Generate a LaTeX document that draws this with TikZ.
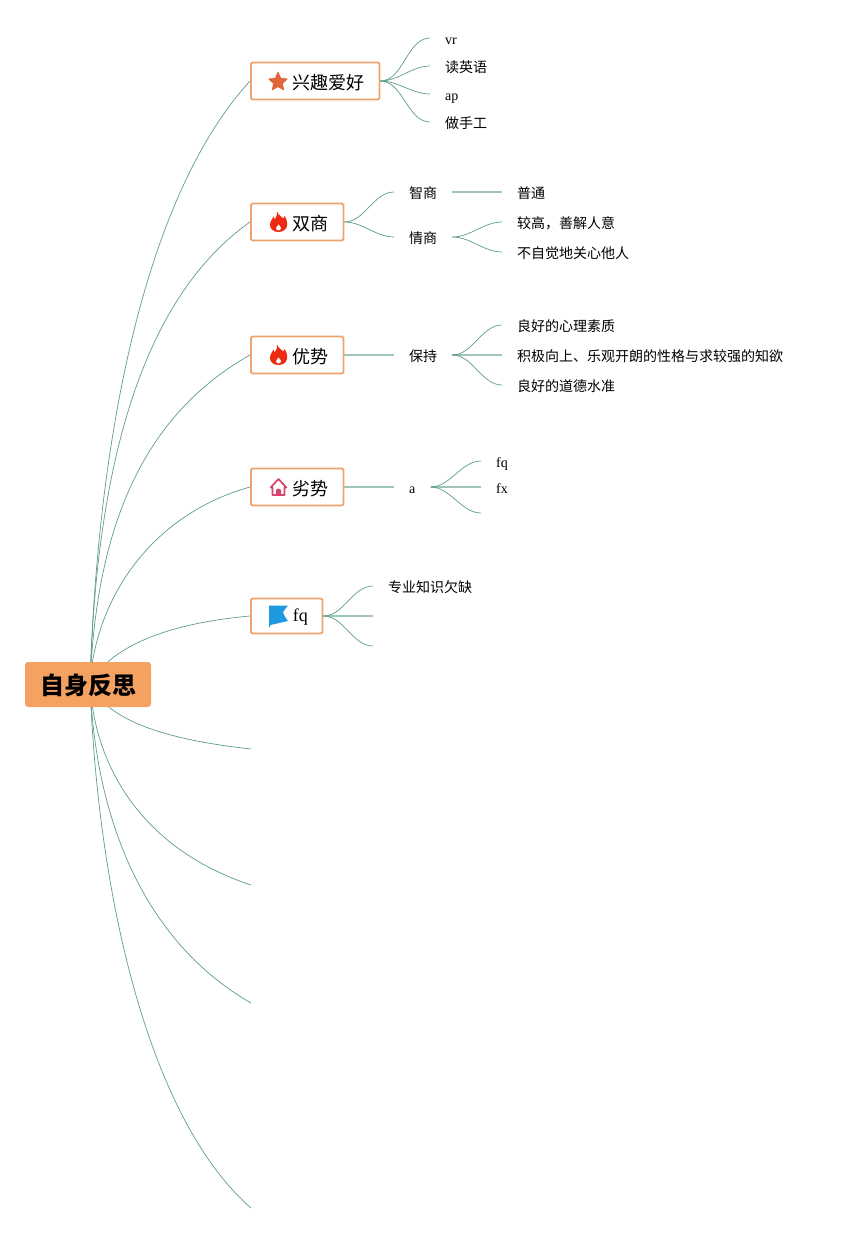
\documentclass[tikz,border=0pt]{standalone}
\usepackage{fontspec}
\setmainfont{Liberation Serif}
\newfontfamily\cjk{Noto Sans CJK SC}
\usetikzlibrary{shapes.geometric,backgrounds}

\definecolor{branchgreen}{HTML}{5E9C8B}
\definecolor{straightgreen}{HTML}{A0C6BA}
\definecolor{boxorange}{HTML}{EFA36C}
\definecolor{rootorange}{HTML}{F5A162}
\definecolor{starred}{HTML}{E2663A}
\definecolor{flamered}{HTML}{EE2B10}
\definecolor{housered}{HTML}{D6446C}
\definecolor{flagblue}{HTML}{1E9BE0}

\tikzset{
  rootbox/.style={
    fill=rootorange,
    rounded corners=3pt,
    minimum width=126pt,
    minimum height=45pt,
    inner sep=0pt,
    text height=20pt,
    text depth=0pt,
    font=\fontsize{24}{26}\selectfont\cjk\bfseries,
  },
  mainbox/.style={
    draw=boxorange,
    fill=white,
    line width=1.8pt,
    rounded corners=1.5pt,
    anchor=west,
    inner xsep=14.6pt,
    inner ysep=0pt,
    minimum height=37pt,
    text height=17pt,
    text depth=0pt,
    font=\fontsize{18}{20}\selectfont,
  },
  leaf/.style={
    anchor=west,
    inner xsep=15pt,
    inner ysep=0pt,
    text height=13pt,
    text depth=0pt,
    font=\fontsize{14}{16}\selectfont,
  },
  latinleaf/.style={leaf, text height=12pt},
  trunk/.style={draw=branchgreen, line width=0.7pt},
  branch/.style={draw=branchgreen, line width=0.7pt},
  straightbranch/.style={draw=straightgreen, line width=1.3pt},
  star icon/.pic={
    \node[star, star points=5, star point ratio=2.1, fill=starred, draw=starred,
      line join=round, line width=1pt, minimum size=19pt, inner sep=0pt] {};
  },
  flame icon/.pic={
    \fill[flamered] (-1.5,-10.5) .. controls (0,-6.5) and (3,-5.5) .. (5,-3.5)
      .. controls (5.8,-4.5) and (6,-5) .. (6,-6)
      .. controls (8.5,-3) and (9,1.5) .. (8.5,4)
      .. controls (7.5,8) and (4,10) .. (0,10)
      .. controls (-5,10) and (-8.5,7) .. (-8.5,3)
      .. controls (-8.5,-1) and (-6,-2.5) .. (-5,-5.5)
      .. controls (-4,-4.5) and (-3.8,-3.5) .. (-3.8,-2.5)
      .. controls (-2,-5) and (-1,-7.5) .. (-1.5,-10.5) -- cycle;
    \fill[white] (0,2.5) .. controls (0.8,3.5) and (2.5,4.5) .. (2.5,6.2)
      .. controls (2.5,7.5) and (1.2,8.5) .. (0,8.5)
      .. controls (-1.2,8.5) and (-2.5,7.5) .. (-2.5,6.2)
      .. controls (-2.5,5) and (-0.8,4) .. (0,2.5) -- cycle;
  },
  house icon/.pic={
    \draw[housered, line width=1.7pt, line join=round]
      (-7.8,0.5) -- (0,-8) -- (7.8,0.5) -- (6,0.5) -- (6,8) -- (-6,8) -- (-6,0.5) -- cycle;
    \fill[housered] (-2.5,8.8) -- (-2.5,3.5) .. controls (-2.5,1) and (2.5,1) .. (2.5,3.5)
      -- (2.5,8.8) -- cycle;
  },
  flag icon/.pic={
    \fill[flagblue] (-9.5,-10.5) -- (9.5,-10.5) .. controls (7,-7.5) and (5.5,-5.5) .. (4.5,-3.5)
      .. controls (5.5,-1) and (7,2) .. (9.5,5) -- (-8,9) -- (-8.5,11) -- (-9.5,11) -- cycle;
  },
}
\newcommand{\iconroom}{\hspace*{27.4pt}}

\begin{document}
\begin{tikzpicture}[x=1pt,y=-1pt]
  \useasboundingbox (0,0) rectangle (843,1233);

  % centre and first level
  \node[rootbox] (root) at (88,684.5) {自身反思};
  \coordinate (hub) at (90,684);
  \node[mainbox] (hobby) at (250,81) {\iconroom\cjk 兴趣爱好};
  \node[mainbox] (iq) at (250,222) {\iconroom\cjk 双商};
  \node[mainbox] (strong) at (250,355) {\iconroom\cjk 优势};
  \node[mainbox] (weak) at (250,487) {\iconroom\cjk 劣势};
  \node[mainbox, minimum height=35pt, text height=10pt] (flagged) at (250,616) {\iconroom fq};
  \coordinate (lowa) at (251,749);
  \coordinate (lowb) at (251,885);
  \coordinate (lowc) at (251,1003);
  \coordinate (lowd) at (251,1208);

  \pic at (278,82) {star icon};
  \pic at (278.5,222) {flame icon};
  \pic at (278.5,355) {flame icon};
  \pic at (278.5,487) {house icon};
  \pic at (278.5,616) {flag icon};

  % hobby leaves
  \node[leaf, text height=14pt] (vr) at (430,38) {vr};
  \node[leaf, text height=14pt] (english) at (430,66) {\cjk 读英语};
  \node[leaf, text height=14pt] (ap) at (430,94) {ap};
  \node[leaf, text height=14pt] (craft) at (430,122) {\cjk 做手工};

  % two quotients
  \node[leaf] (iqa) at (394,192) {\cjk 智商};
  \node[leaf] (eqa) at (394,237) {\cjk 情商};
  \node[leaf] (plain) at (502,192) {\cjk 普通};
  \node[leaf] (high) at (502,222) {\cjk 较高，善解人意};
  \node[leaf] (care) at (502,252) {\cjk 不自觉地关心他人};

  % strengths
  \node[leaf] (keep) at (394,355) {\cjk 保持};
  \node[leaf] (mind) at (502,325) {\cjk 良好的心理素质};
  \node[leaf] (bright) at (502,355) {\cjk 积极向上、乐观开朗的性格与求较强的知欲};
  \node[leaf] (moral) at (502,385) {\cjk 良好的道德水准};

  % weaknesses
  \node[latinleaf] (aa) at (394,487) {a};
  \node[latinleaf] (fqa) at (481,461) {fq};
  \node[latinleaf] (fxa) at (481,487) {fx};
  \coordinate (fxb) at (481,513);

  % last block
  \node[leaf] (lack) at (373,586) {\cjk 专业知识欠缺};
  \coordinate (lackb) at (373,616);
  \coordinate (lackc) at (373,646);

  \begin{scope}[on background layer]
    \draw[trunk] (hub) .. controls (98,420) and (150,190) .. (hobby.west);
    \draw[trunk] (hub) .. controls (96,470) and (140,300) .. (iq.west);
    \draw[trunk] (hub) .. controls (96,540) and (135,420) .. (strong.west);
    \draw[trunk] (hub) .. controls (95,600) and (150,515) .. (weak.west);
    \draw[trunk] (hub) .. controls (105,655) and (150,625) .. (flagged.west);
    \draw[trunk] (hub) .. controls (105,715) and (150,738) .. (lowa);
    \draw[trunk] (hub) .. controls (95,770) and (145,850) .. (lowb);
    \draw[trunk] (hub) .. controls (96,830) and (150,945) .. (lowc);
    \draw[trunk] (hub) .. controls (98,900) and (150,1120) .. (lowd);
  \end{scope}

  \foreach \tip in {vr,english,ap,craft}
    \draw[branch] (hobby.east) to[out=0,in=180,looseness=0.9] (\tip.west);
  \foreach \tip in {iqa,eqa}
    \draw[branch] (iq.east) to[out=0,in=180,looseness=0.9] (\tip.west);
  \draw[straightbranch] (iqa.east) -- (plain.west);
  \foreach \tip in {high,care}
    \draw[branch] (eqa.east) to[out=0,in=180,looseness=0.9] (\tip.west);
  \draw[straightbranch] (strong.east) -- (keep.west);
  \draw[straightbranch] (keep.east) -- (bright.west);
  \foreach \tip in {mind,moral}
    \draw[branch] (keep.east) to[out=0,in=180,looseness=0.9] (\tip.west);
  \draw[straightbranch] (weak.east) -- (aa.west);
  \draw[straightbranch] (aa.east) -- (fxa.west);
  \draw[branch] (aa.east) to[out=0,in=180,looseness=0.9] (fqa.west);
  \draw[branch] (aa.east) to[out=0,in=180,looseness=0.9] (fxb);
  \draw[straightbranch] (flagged.east) -- (lackb);
  \draw[branch] (flagged.east) to[out=0,in=180,looseness=0.9] (lack.west);
  \draw[branch] (flagged.east) to[out=0,in=180,looseness=0.9] (lackc);
\end{tikzpicture}
\end{document}
